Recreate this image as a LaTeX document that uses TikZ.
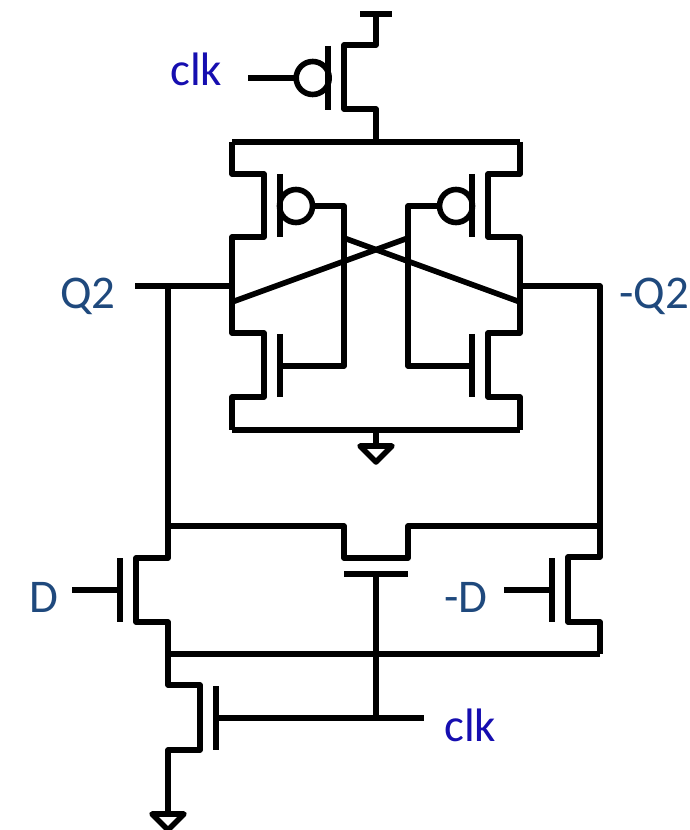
\documentclass[tikz,border=0pt]{standalone}
\usepackage{fontspec}
\setmainfont{Carlito}
\definecolor{clkblue}{RGB}{22,14,176}
\definecolor{sigblue}{RGB}{31,73,125}
\tikzset{
  wire/.style={black, line width=0.112cm, line join=round},
  clklabel/.style={anchor=base west, inner sep=0pt, text=clkblue, font=\fontsize{26.7}{30}\selectfont},
  siglabel/.style={anchor=base west, inner sep=0pt, text=sigblue, font=\fontsize{26.7}{30}\selectfont}
}
\begin{document}
\begin{tikzpicture}[x=0.02cm, y=-0.02cm]
\useasboundingbox (0,0) rectangle (689,830);
% top pmos
\draw[wire] (360,14) -- (392,14);
\draw[wire] (376,14) -- (376,45) -- (344,45) -- (344,109) -- (376,109) -- (376,142);
\draw[wire] (328,46) -- (328,110);
\draw[wire] (312.7,78) circle (0.33cm);
\draw[wire] (248,78) -- (296,78);
% rails
\draw[wire] (232,142) -- (520,142);
\draw[wire] (232,430) -- (520,430);
% left side of the latch
\draw[wire] (232,142) -- (232,174) -- (264,174) -- (264,237) -- (232,237) -- (232,333) -- (264,333) -- (264,397) -- (232,397) -- (232,430);
\draw[wire] (280,174) -- (280,237);
\draw[wire] (280,334) -- (280,397);
\draw[wire] (296,206) circle (0.33cm);
\draw[wire] (313,206) -- (344,206) -- (344,366) -- (280,366);
% right side of the latch
\draw[wire] (520,142) -- (520,174) -- (488,174) -- (488,237) -- (520,237) -- (520,333) -- (488,333) -- (488,397) -- (520,397) -- (520,430);
\draw[wire] (472,174) -- (472,237);
\draw[wire] (472,334) -- (472,397);
\draw[wire] (456,206) circle (0.33cm);
\draw[wire] (439,206) -- (408,206) -- (408,366) -- (472,366);
% cross
\draw[wire] (232,302) -- (408,238);
\draw[wire] (344,238) -- (520,302);
% ground of the latch
\draw[wire] (376,430) -- (376,445);
\draw[wire] (360,446) -- (392,446) -- (376,462) -- cycle;
% outputs
\draw[wire] (135,286) -- (232,286);
\draw[wire] (168,286) -- (168,558) -- (136,558) -- (136,622) -- (168,622) -- (168,685) -- (200,685) -- (200,750) -- (168,750) -- (168,813);
\draw[wire] (520,286) -- (600,286) -- (600,557) -- (568,557) -- (568,622) -- (600,622) -- (600,654);
% pass device
\draw[wire] (168,526) -- (344,526) -- (344,558) -- (408,558) -- (408,526) -- (600,526);
\draw[wire] (344,574) -- (408,574);
\draw[wire] (376,574) -- (376,718);
\draw[wire] (168,654) -- (600,654);
% gates below
\draw[wire] (120,558) -- (120,622);
\draw[wire] (72,590) -- (120,590);
\draw[wire] (552,558) -- (552,622);
\draw[wire] (504,590) -- (552,590);
\draw[wire] (216,686) -- (216,750);
\draw[wire] (216,718) -- (424,718);
% ground
\draw[wire] (152,814) -- (184,814) -- (168,830) -- cycle;
% labels
\node[clklabel] (clkTop) at (170,86) {clk};
\node[clklabel] (clkBot) at (444,741) {clk};
\node[siglabel] (qTwo) at (60,309) {Q2};
\node[siglabel] (qTwoBar) at (619,309) {-Q2};
\node[siglabel] (dIn) at (29,612) {D};
\node[siglabel] (dBar) at (444,612) {-D};
\end{tikzpicture}
\end{document}
